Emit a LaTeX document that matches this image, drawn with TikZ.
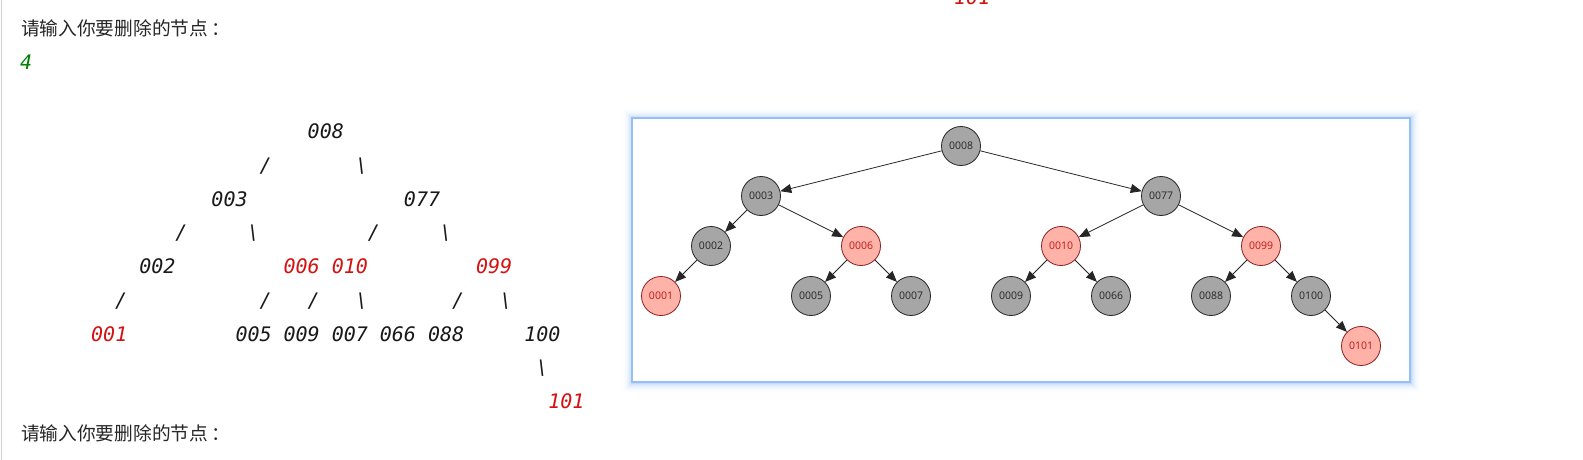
\documentclass[tikz,border=0pt]{standalone}
\usepackage{fontspec}
\usetikzlibrary{arrows.meta}
\newfontfamily\cjk{Noto Sans CJK SC}
\newfontfamily\codefont{DejaVu Sans Mono}[ItalicFont={DejaVu Sans Mono Oblique}]
\newfontfamily\nodefont{Open Sans}
\definecolor{codered}{RGB}{212,18,18}
\definecolor{codegreen}{RGB}{0,128,0}
\definecolor{bfill}{RGB}{166,166,166}
\definecolor{rfill}{RGB}{255,178,168}
\definecolor{rdraw}{RGB}{140,30,30}
\definecolor{rtext}{RGB}{190,25,25}
\definecolor{glowblue}{RGB}{150,192,245}
\tikzset{
  tok/.style={anchor=base west, inner sep=0pt, font=\codefont\itshape\fontsize{20}{24}\selectfont, text=black!90},
  cjktext/.style={anchor=base west, inner sep=0pt, font=\cjk\fontsize{18.7}{22}\selectfont, text=black!85},
  bnode/.style={circle, draw=black!85, fill=bfill, minimum size=39pt, inner sep=0pt, line width=0.8pt, font=\nodefont\fontsize{10.5}{12}\selectfont, text=black!85},
  rnode/.style={bnode, fill=rfill, draw=rdraw, text=rtext},
  edge/.style={-{Triangle[length=11pt,width=9pt]}, line width=0.8pt, draw=black!85},
}
\newcommand\tk[5]{\node[tok,text=#4] (#1) at ({18.8+12.03*#2},{138.5+33.75*#3}) {#5};}
\begin{document}
\begin{tikzpicture}[x=1pt,y=-1pt]
\useasboundingbox (0,0) rectangle (1583,460);
\fill[white] (0,0) rectangle (1583,460);
\draw[black!18, line width=1.5pt] (1.6,0) -- (1.6,460);
% console text
\node[tok,text=codered] (top101) at (954,4.5) {101};
\node[cjktext] (q1) at (21,35.4) {请输入你要删除的节点\kern3pt：};
\node[tok,text=codegreen] (in4) at (20,70) {4};
\node[cjktext] (q2) at (21,440.4) {请输入你要删除的节点\kern3pt：};
% ascii tree
\tk{a008}{24}{0}{black!90}{008}
\tk{s1}{20}{1}{black!90}{/}
\tk{s2}{28}{1}{black!90}{\textbackslash}
\tk{a003}{16}{2}{black!90}{003}
\tk{a077}{32}{2}{black!90}{077}
\tk{s3}{13}{3}{black!90}{/}
\tk{s4}{19}{3}{black!90}{\textbackslash}
\tk{s5}{29}{3}{black!90}{/}
\tk{s6}{35}{3}{black!90}{\textbackslash}
\tk{a002}{10}{4}{black!90}{002}
\tk{a006}{22}{4}{codered}{006}
\tk{a010}{26}{4}{codered}{010}
\tk{a099}{38}{4}{codered}{099}
\tk{s7}{8}{5}{black!90}{/}
\tk{s8}{20}{5}{black!90}{/}
\tk{s9}{24}{5}{black!90}{/}
\tk{s10}{28}{5}{black!90}{\textbackslash}
\tk{s11}{36}{5}{black!90}{/}
\tk{s12}{40}{5}{black!90}{\textbackslash}
\tk{a001}{6}{6}{codered}{001}
\tk{a005}{18}{6}{black!90}{005}
\tk{a009}{22}{6}{black!90}{009}
\tk{a007}{26}{6}{black!90}{007}
\tk{a066}{30}{6}{black!90}{066}
\tk{a088}{34}{6}{black!90}{088}
\tk{a100}{42}{6}{black!90}{100}
\tk{s13}{43}{7}{black!90}{\textbackslash}
\tk{a101}{44}{8}{codered}{101}
% panel with glow
\foreach \i/\o in {1/0.55,2/0.4,3/0.3,4/0.22,5/0.15,6/0.1,7/0.06,8/0.035,9/0.02}
  \draw[glowblue, opacity=\o, line width=1pt] ({632-\i},{118-\i}) rectangle ({1410+\i},{382+\i});
\node[draw=glowblue, line width=1.2pt, fill=white, minimum width=778pt, minimum height=264pt, inner sep=0pt, outer sep=0pt] (panel) at (1021,250) {};
% graph nodes
\node[bnode] (n8) at (961,146) {0008};
\node[bnode] (n3) at (761,196) {0003};
\node[bnode] (n77) at (1161,196) {0077};
\node[bnode] (n2) at (711,246) {0002};
\node[rnode] (n6) at (861,246) {0006};
\node[rnode] (n10) at (1061,246) {0010};
\node[rnode] (n99) at (1261,246) {0099};
\node[rnode] (n1) at (661,296) {0001};
\node[bnode] (n5) at (811,296) {0005};
\node[bnode] (n7) at (911,296) {0007};
\node[bnode] (n9) at (1011,296) {0009};
\node[bnode] (n66) at (1111,296) {0066};
\node[bnode] (n88) at (1211,296) {0088};
\node[bnode] (n100) at (1311,296) {0100};
\node[rnode] (n101) at (1361,346) {0101};
\draw[edge] (n8) -- (n3);
\draw[edge] (n8) -- (n77);
\draw[edge] (n3) -- (n2);
\draw[edge] (n3) -- (n6);
\draw[edge] (n2) -- (n1);
\draw[edge] (n6) -- (n5);
\draw[edge] (n6) -- (n7);
\draw[edge] (n77) -- (n10);
\draw[edge] (n77) -- (n99);
\draw[edge] (n10) -- (n9);
\draw[edge] (n10) -- (n66);
\draw[edge] (n99) -- (n88);
\draw[edge] (n99) -- (n100);
\draw[edge] (n100) -- (n101);
\end{tikzpicture}
\end{document}
